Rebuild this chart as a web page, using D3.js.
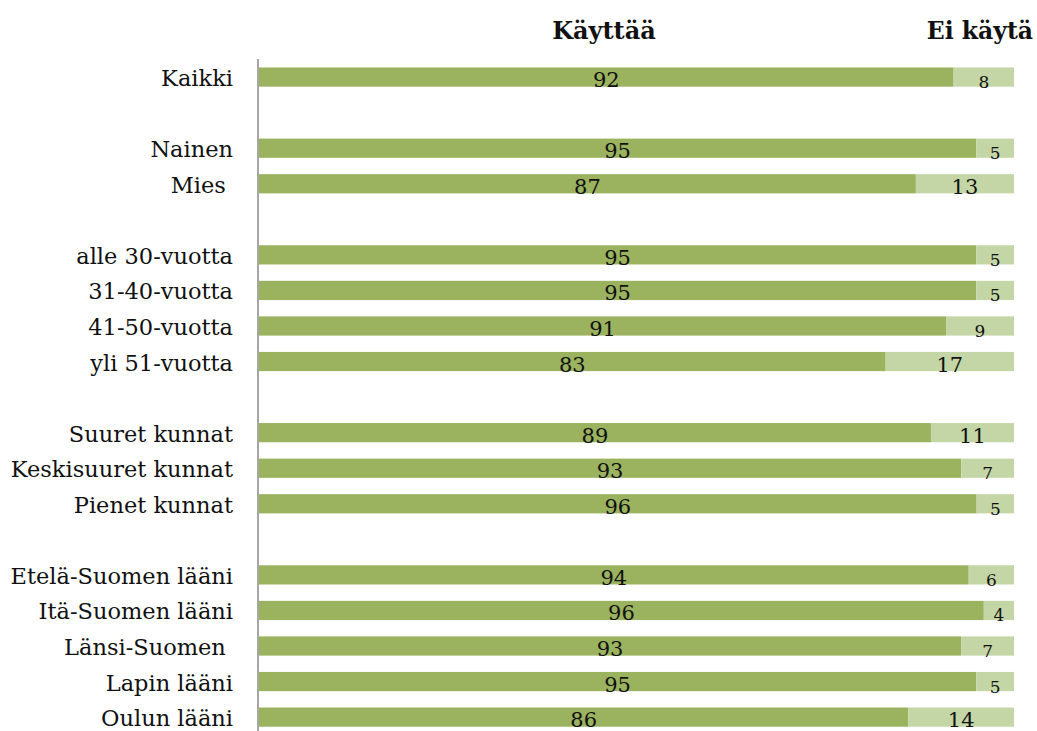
<!DOCTYPE html>
<html>
<head>
<meta charset="utf-8">
<script src="https://cdn.jsdelivr.net/npm/d3@7"></script>
<style>
  body { margin: 0; background: #fff; }
  svg text { font-family: "DejaVu Serif", serif; fill: #111; }
  .catLabel { white-space: pre; }
</style>
</head>
<body>
<div id="chart"></div>
<script>
// Rows top to bottom, blank strings are the gaps between groups
const categories = ['Kaikki', '', 'Nainen', 'Mies ', '',
    'alle 30-vuotta', '31-40-vuotta', '41-50-vuotta', 'yli 51-vuotta', '',
    'Suuret kunnat', 'Keskisuuret kunnat', 'Pienet kunnat', '',
    'Etelä-Suomen lääni', 'Itä-Suomen lääni', 'Länsi-Suomen ', 'Lapin lääni', 'Oulun lääni'];
const uses    = [92, null, 95, 87, null, 95, 95, 91, 83, null, 89, 93, 96, null, 94, 96, 93, 95, 86];
const notUses = [8, null, 5, 13, null, 5, 5, 9, 17, null, 11, 7, 5, null, 6, 4, 7, 5, 14];
const seriesNames = ['Käyttää', 'Ei käytä'];
const colors = ['#9bb25f', '#c4d6a5'];

function initChart(selector, width, height) {
    return d3.select(selector)
        .append('svg')
        .attr('width', width)
        .attr('height', height);
}

function drawChart() {
    let width = 1037,
        height = 731,
        left = 258,
        right = 1014;

    let svg = initChart('#chart', width, height);

    let rows = categories.map((c, i) => ({
        index: i, name: c, use: uses[i], not: notUses[i]
    }));

    let y = d3.scaleBand()
        .domain(rows.map(d => d.index))
        .range([59.3, 734.9])
        .paddingInner(0.46)
        .paddingOuter(0.23);

    let x = d3.scaleLinear()
        .domain([0, 1])
        .range([left + 1, right]);

    let data = rows.filter(d => d.use !== null);

    let bars = svg.append('g').attr('class', 'bars')
        .selectAll('g')
        .data(data)
        .enter().append('g');

    bars.append('rect')
        .attr('x', x(0))
        .attr('y', d => y(d.index))
        .attr('height', y.bandwidth())
        .attr('width', d => x(d.use / (d.use + d.not)) - x(0))
        .attr('fill', colors[0]);

    bars.append('rect')
        .attr('x', d => x(d.use / (d.use + d.not)))
        .attr('y', d => y(d.index))
        .attr('height', y.bandwidth())
        .attr('width', d => x(1) - x(d.use / (d.use + d.not)))
        .attr('fill', colors[1]);

    bars.append('text')
        .attr('x', d => (x(0) + x(d.use / (d.use + d.not))) / 2)
        .attr('y', d => y(d.index) + y.bandwidth() / 2 + 10)
        .attr('text-anchor', 'middle')
        .style('font-size', '21px')
        .text(d => d.use);

    bars.append('text')
        .attr('x', d => (x(1) + x(d.use / (d.use + d.not))) / 2)
        .attr('y', d => y(d.index) + y.bandwidth() / 2 + (d.not > 9 ? 10 : 11))
        .attr('text-anchor', 'middle')
        .style('font-size', d => d.not > 9 ? '21px' : '17px')
        .text(d => d.not);

    // Category labels
    svg.append('g')
        .selectAll('text')
        .data(rows.filter(d => d.name))
        .enter().append('text')
        .attr('class', 'catLabel')
        .attr('x', 233)
        .attr('y', d => y(d.index) + y.bandwidth() / 2 + 9)
        .attr('text-anchor', 'end')
        .style('font-size', '22.5px')
        .text(d => d.name);

    // Axis line
    svg.append('line')
        .attr('x1', left).attr('x2', left)
        .attr('y1', 59).attr('y2', height)
        .attr('stroke', '#a6a6a6')
        .attr('stroke-width', 2);

    // Column headers
    svg.append('text')
        .attr('x', 604).attr('y', 39)
        .attr('text-anchor', 'middle')
        .style('font-size', '24px').style('font-weight', 'bold')
        .text(seriesNames[0]);

    svg.append('text')
        .attr('x', 1033).attr('y', 39)
        .attr('text-anchor', 'end')
        .style('font-size', '23.5px').style('font-weight', 'bold')
        .text(seriesNames[1]);
}

drawChart();
</script>
</body>
</html>
